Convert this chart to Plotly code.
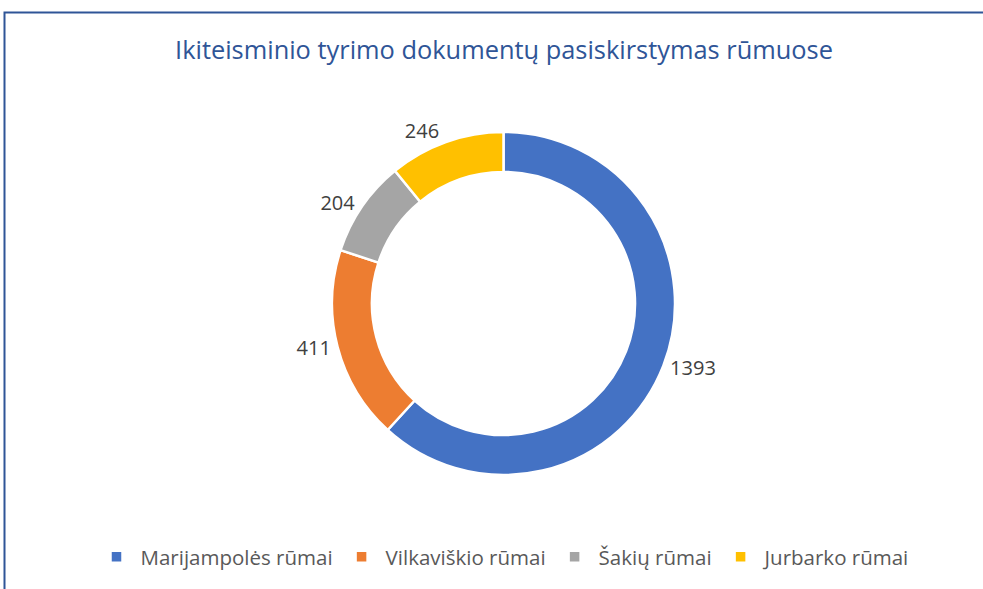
import plotly.graph_objects as go

categories = ["Marijampolės rūmai", "Vilkaviškio rūmai", "Šakių rūmai", "Jurbarko rūmai"]
values = [1393, 411, 204, 246]
colors = ["#4472C4", "#ED7D31", "#A5A5A5", "#FFC000"]
title_text = "Ikiteisminio tyrimo dokumentų pasiskirstymas rūmuose"

W, H = 983, 589
cx, cy, r = 503.5, 303.5, 171.5

fig = go.Figure(go.Pie(
    labels=categories,
    values=values,
    hole=0.767,
    sort=False,
    direction="clockwise",
    rotation=0,
    marker=dict(colors=colors, line=dict(color="white", width=2.5)),
    textinfo="value",
    textposition="outside",
    textfont=dict(family="Open Sans", size=20, color="#404040"),
    hoverinfo="label+value",
    domain=dict(x=[(cx - r) / W, (cx + r) / W], y=[1 - (cy + r) / H, 1 - (cy - r) / H]),
    showlegend=True,
))

fig.update_layout(
    width=W, height=H,
    margin=dict(l=0, r=0, t=0, b=0),
    paper_bgcolor="white",
    plot_bgcolor="white",
    title=dict(text=title_text, x=504 / W, xanchor="center", y=1 - 50 / H, yanchor="middle",
               font=dict(family="Open Sans", size=25.4, color="#2F5597")),
    legend=dict(orientation="h", x=504 / W, xanchor="center", y=1 - 557 / H, yanchor="middle",
                font=dict(family="Open Sans", size=20.5, color="#595959"),
                itemwidth=38, tracegroupgap=0),
    shapes=[dict(type="rect", xref="paper", yref="paper",
                 x0=4.5 / W, x1=1.05, y0=-0.05, y1=1 - 12.5 / H,
                 line=dict(color="#2F5597", width=2), fillcolor="rgba(0,0,0,0)", layer="below")],
)

fig.write_html("out.html", config={"displayModeBar": False},
               post_script="document.body.style.margin='0';document.body.style.overflow='hidden';")
